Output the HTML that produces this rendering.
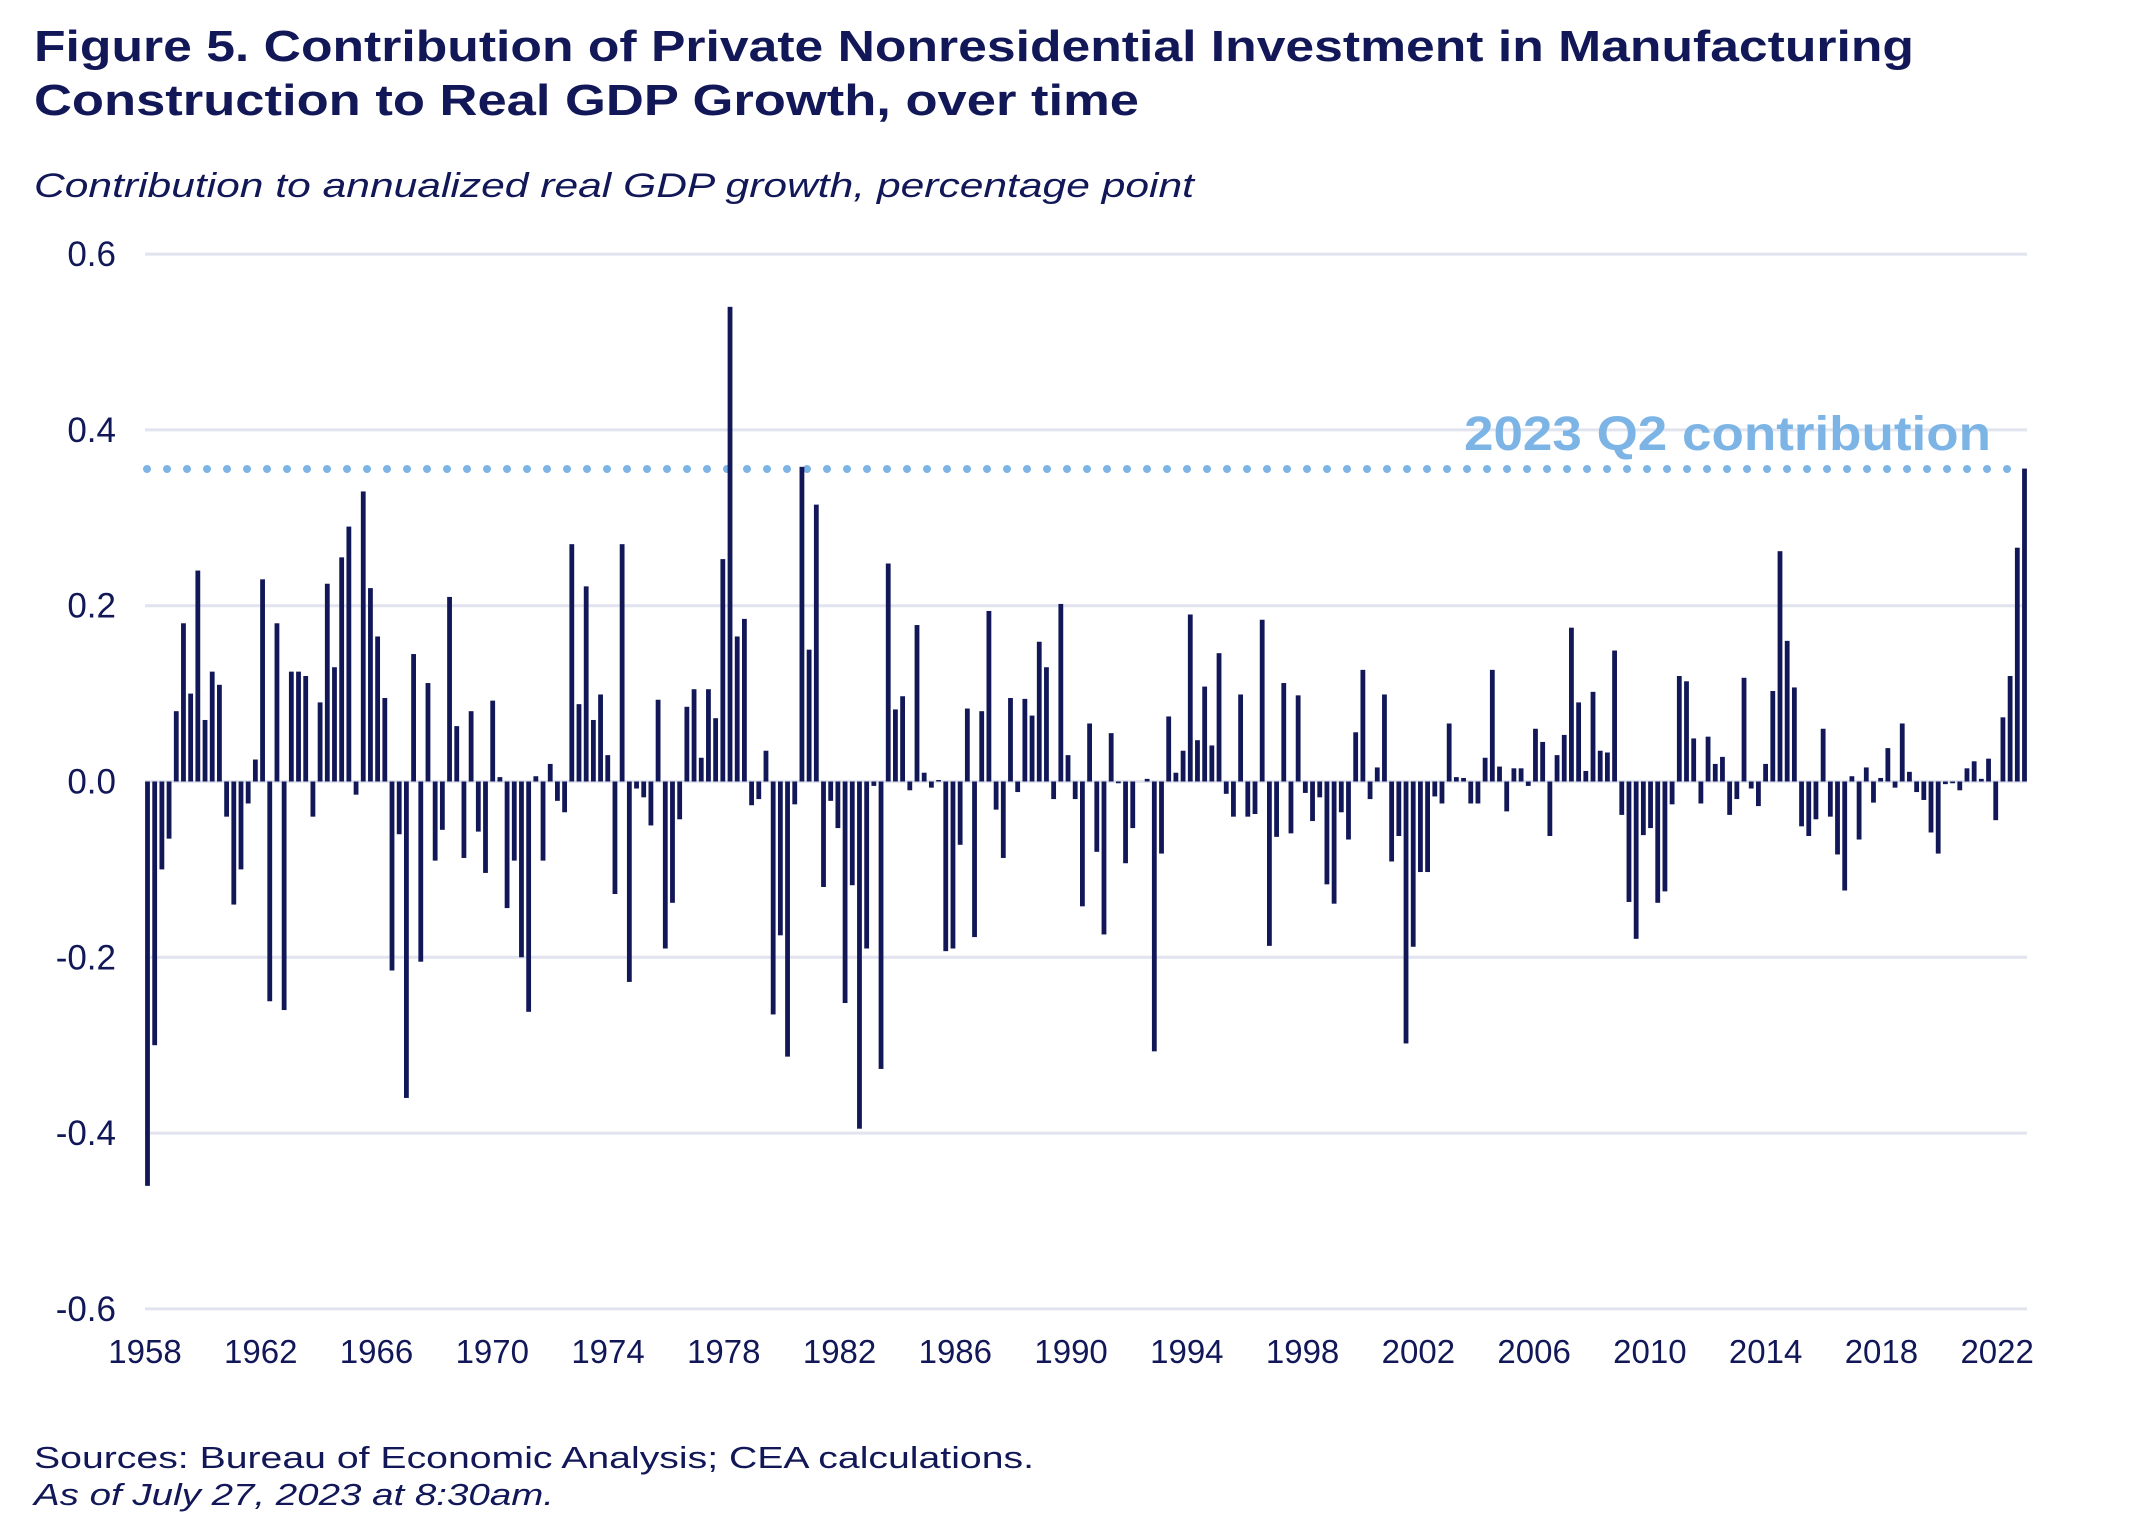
<!DOCTYPE html>
<html><head><meta charset="utf-8"><style>
html,body{margin:0;padding:0;background:#fff;}
svg{display:block;}
text{font-family:"Liberation Sans",sans-serif;fill:#111757;}
</style></head><body>
<svg width="2145" height="1533" viewBox="0 0 2145 1533" xmlns="http://www.w3.org/2000/svg">
<text x="34" y="61" font-size="44" font-weight="bold" textLength="1880" lengthAdjust="spacingAndGlyphs">Figure 5. Contribution of Private Nonresidential Investment in Manufacturing</text>
<text x="34" y="115" font-size="44" font-weight="bold" textLength="1105" lengthAdjust="spacingAndGlyphs">Construction to Real GDP Growth, over time</text>
<text x="34" y="197" font-size="34" font-style="italic" textLength="1160" lengthAdjust="spacingAndGlyphs">Contribution to annualized real GDP growth, percentage point</text>
<g id="grid" stroke="#e1e4ef" stroke-width="3"></g>
<g id="ylab" font-size="35" text-anchor="end"></g>
<g id="xlab" font-size="33" text-anchor="middle"></g>
<line x1="147" y1="469" x2="2010" y2="469" stroke="#7db4e6" stroke-width="8" stroke-linecap="round" stroke-dasharray="0 20"/>
<text x="1464" y="450" font-size="48" style="fill:#7db4e6" font-weight="bold" textLength="527" lengthAdjust="spacingAndGlyphs">2023 Q2 contribution</text>
<g id="bars" fill="#111757"></g>
<text x="34" y="1468" font-size="31" textLength="1000" lengthAdjust="spacingAndGlyphs">Sources: Bureau of Economic Analysis; CEA calculations.</text>
<text x="34" y="1505" font-size="31" font-style="italic" textLength="520" lengthAdjust="spacingAndGlyphs">As of July 27, 2023 at 8:30am.</text>
<script>
var NS="http://www.w3.org/2000/svg";
function el(p,t,a,txt){var e=document.createElementNS(NS,t);for(var k in a)e.setAttribute(k,a[k]);if(txt!==undefined)e.textContent=txt;document.getElementById(p).appendChild(e);}
var Z=781.5,U=879;
[0.6,0.4,0.2,0,-0.2,-0.4,-0.6].forEach(function(v){var y=Z-v*U;
 el("grid","line",{x1:145,x2:2027,y1:y,y2:y});
 el("ylab","text",{x:116,y:y+12},v.toFixed(1));});
for(var yr=1958;yr<=2022;yr+=4){el("xlab","text",{x:145+28.94*(yr-1958),y:1363},String(yr));}
var A=[-0.46,-0.30,-0.10,-0.065,0.08,0.18,0.10,0.24,0.07,0.125,
0.11,-0.04,-0.14,-0.10,-0.025,0.025,0.23,-0.25,0.18,-0.26,
0.125,0.125,0.12,-0.04,0.09,0.225,0.13,0.255,0.29,-0.015,
0.33,0.22,0.165,0.095,-0.215,-0.06,-0.36,0.145,-0.205,0.112,
-0.09,-0.055,0.21,0.063,-0.087,0.08,-0.057,-0.104,0.092,0.005,
-0.144,-0.09,-0.2,-0.262,0.006,-0.09,0.02,-0.022,-0.035,0.27,
0.088,0.222,0.07,0.099,0.03,-0.128,0.27,-0.228,-0.008,-0.018,
-0.05,0.093,-0.19,-0.138,-0.043,0.085,0.105,0.027,0.105,0.072,
0.253,0.54,0.165,0.185,-0.027,-0.02,0.035,-0.265,-0.175,-0.313,
-0.026,0.358,0.15,0.315,-0.12,-0.022,-0.053,-0.252,-0.118,-0.395,
-0.19,-0.005,-0.327,0.248,0.082,0.097,-0.01,0.178,0.01,-0.007,
0,-0.193,-0.19,-0.072,0.083,-0.177,0.08,0.194,-0.032,-0.087,
0.095,-0.012,0.094,0.075,0.159,0.13,-0.02,0.202,0.03,-0.02,
-0.142,0.066,-0.08,-0.174,0.055,-0.002,-0.093,-0.053];
var B=[0.003,-0.307,-0.082,0.074,0.01,0.035,0.19,0.047,0.108,0.041,0.146,-0.014,-0.04,0.099,-0.04,-0.037,0.184,-0.187,-0.063,0.112,-0.059,0.098,-0.013,-0.045,-0.018,-0.117,-0.139,-0.035,-0.066,0.056,0.127,-0.02,0.016,0.099,-0.091,-0.062,-0.298,-0.188,-0.103,-0.103,-0.017,-0.025,0.066,0.005,0.004,-0.025,-0.025,0.027,0.127,0.017,-0.034,0.015,0.015,-0.005,0.06,0.045,-0.062,0.03,0.053,0.175,0.09,0.012,0.102,0.035,0.033,0.149,-0.038,-0.137,-0.179,-0.061,-0.053,-0.138,-0.125,-0.026,0.12,0.114,0.049,-0.025,0.051,0.02,0.028,-0.038,-0.02,0.118,-0.008,-0.028,0.02,0.103,0.262,0.16,0.107,-0.051,-0.062,-0.043,0.06,-0.04,-0.083,-0.124,0.006,-0.066,0.016,-0.024,0.004,0.038,-0.007,0.066,0.011,-0.012,-0.021,-0.058,-0.082,-0.003,-0.002,-0.01,0.015,0.023,0.003,0.026,-0.044,0.073,0.12,0.266,0.356];
var N=262,sp=(2024.5-147.5)/261;
function bar(i,v){var cx=147.5+sp*i,h=Math.abs(v)*U;if(h<1.5)h=1.5;var y=v>=0?Z-h:Z;
 el("bars","rect",{x:(cx-2.4).toFixed(2),y:y.toFixed(2),width:4.8,height:h.toFixed(2)});}
A.forEach(function(v,i){bar(i,v);});
B.forEach(function(v,j){bar(N-B.length+j,v);});
</script>
</svg>
</body></html>
